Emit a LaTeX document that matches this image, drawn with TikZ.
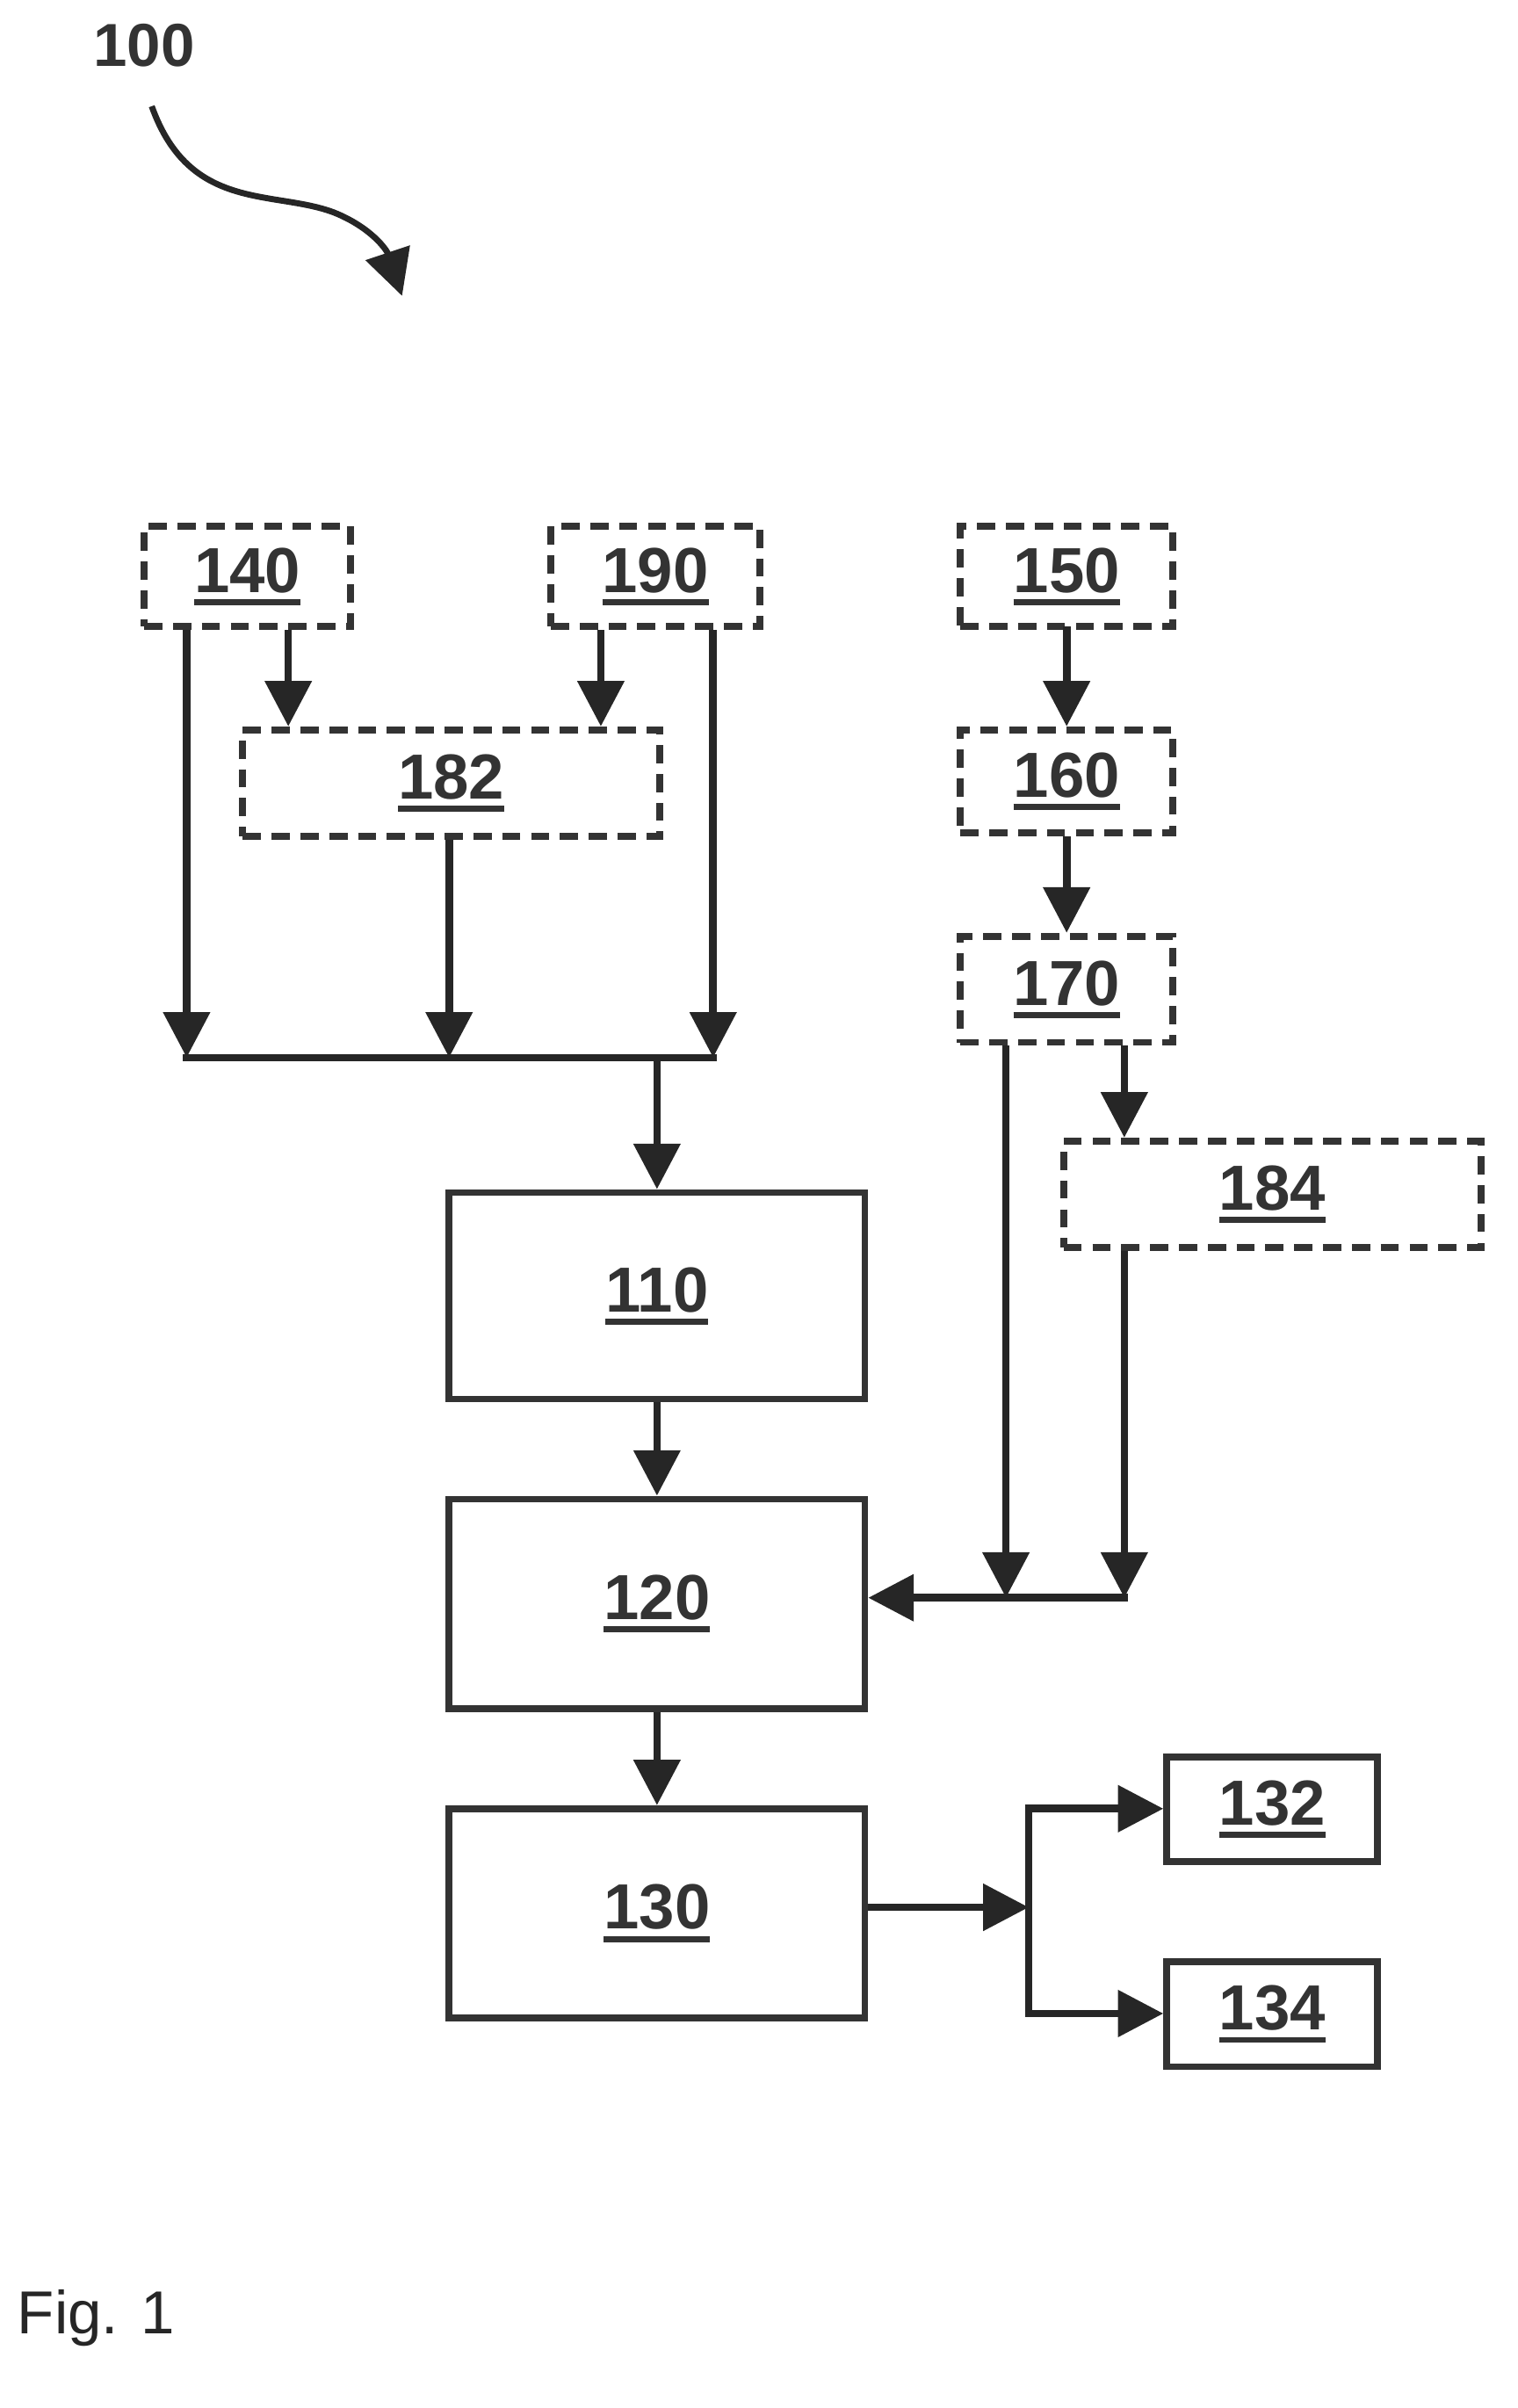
\documentclass[tikz,border=0pt]{standalone}
\usepackage{fontspec}
\setmainfont{Liberation Sans}
\usetikzlibrary{arrows.meta}
\newcommand\myul[1]{\leavevmode\vtop{\hbox{#1}\kern4pt\hrule height 4pt}}
\begin{document}
\begin{tikzpicture}[x=1pt,y=-1pt,
  box/.style={draw=black!80,line width=4.5pt,rectangle,inner sep=0pt,font=\fontsize{42}{44}\selectfont\bfseries,text=black!80},
  dbox/.style={box,dash pattern=on 12pt off 7pt},
  ar/.style={line width=5pt,draw=black!85,-{Triangle[length=30pt,width=30pt]}},
  ln/.style={line width=5pt,draw=black!85}]
\useasboundingbox (0,0) rectangle (1000,1587);
\newcommand\bx[6]{\node[#1,minimum width=#4-#3,minimum height=#6-#5] (#2) at ({(#3+#4)/2},{(#5+#6)/2}) {\myul{#2}};}
\bx{dbox}{140}{95}{231}{347}{413}
\bx{dbox}{190}{363}{501}{347}{413}
\bx{dbox}{150}{633}{773}{347}{413}
\bx{dbox}{182}{160}{435}{481}{551}
\bx{dbox}{160}{633}{773}{481}{549}
\bx{dbox}{170}{633}{773}{617}{687}
\bx{dbox}{184}{701}{976}{752}{822}
\bx{box}{110}{296}{570}{786}{922}
\bx{box}{120}{296}{570}{988}{1126}
\bx{box}{130}{296}{570}{1192}{1330}
\bx{box}{132}{769}{908}{1158}{1227}
\bx{box}{134}{769}{908}{1293}{1362}
\coordinate (b1) at (123,697); \coordinate (b2) at (296,697); \coordinate (b3) at (470,697); \coordinate (b4) at (433,697);
\coordinate (c1) at (663,1053); \coordinate (c2) at (741,1053);
\coordinate (s) at (678,1257); \coordinate (s1) at (678,1192); \coordinate (s2) at (678,1327);
\draw[ar] (140.south -| b1) -- (b1);
\draw[ar] (140.south -| 190,0) -- (182.north -| 190,0);
\draw[ar] (190.south -| 396,0) -- (182.north -| 396,0);
\draw[ar] (190.south -| b3) -- (b3);
\draw[ar] (182.south -| b2) -- (b2);
\draw[ln] ([xshift=-2.5pt]b1) -- ([xshift=2.5pt]b3);
\draw[ar] (b4) -- (110.north -| b4);
\draw[ar] (110.south -| b4) -- (120.north -| b4);
\draw[ar] (120.south -| b4) -- (130.north -| b4);
\draw[ar] (150) ++(0,33) -- (160.north);
\draw[ar] (160.south) -- (170.north);
\draw[ar] (170.south -| c1) -- (c1);
\draw[ar] (170.south -| c2) -- (184.north -| c2);
\draw[ar] (184.south -| c2) -- (c2);
\draw[ar] ([xshift=2.5pt]c2) -- (120.east |- c2);
\draw[ar] (130.east |- s) -- (s);
\draw[ln] ([yshift=-2.5pt]s1) -- ([yshift=2.5pt]s2);
\draw[ar] ([xshift=-2.5pt]s1) -- (132.west |- s1);
\draw[ar] ([xshift=-2.5pt]s2) -- (134.west |- s2);
\node[font=\fontsize{40}{42}\selectfont\bfseries,text=black!80] (l100) at (95,30) {100};
\coordinate (t100) at (265,195);
\draw[ar,line width=4pt] (100,70) .. controls (125,140) and (180,125) .. (220,140) .. controls (245,150) and (255,165) .. (t100);
\node[font=\fontsize{40}{42}\selectfont,text=black!85,anchor=west] (fig) at (8,1528) {Fig. 1};
\end{tikzpicture}
\end{document}
